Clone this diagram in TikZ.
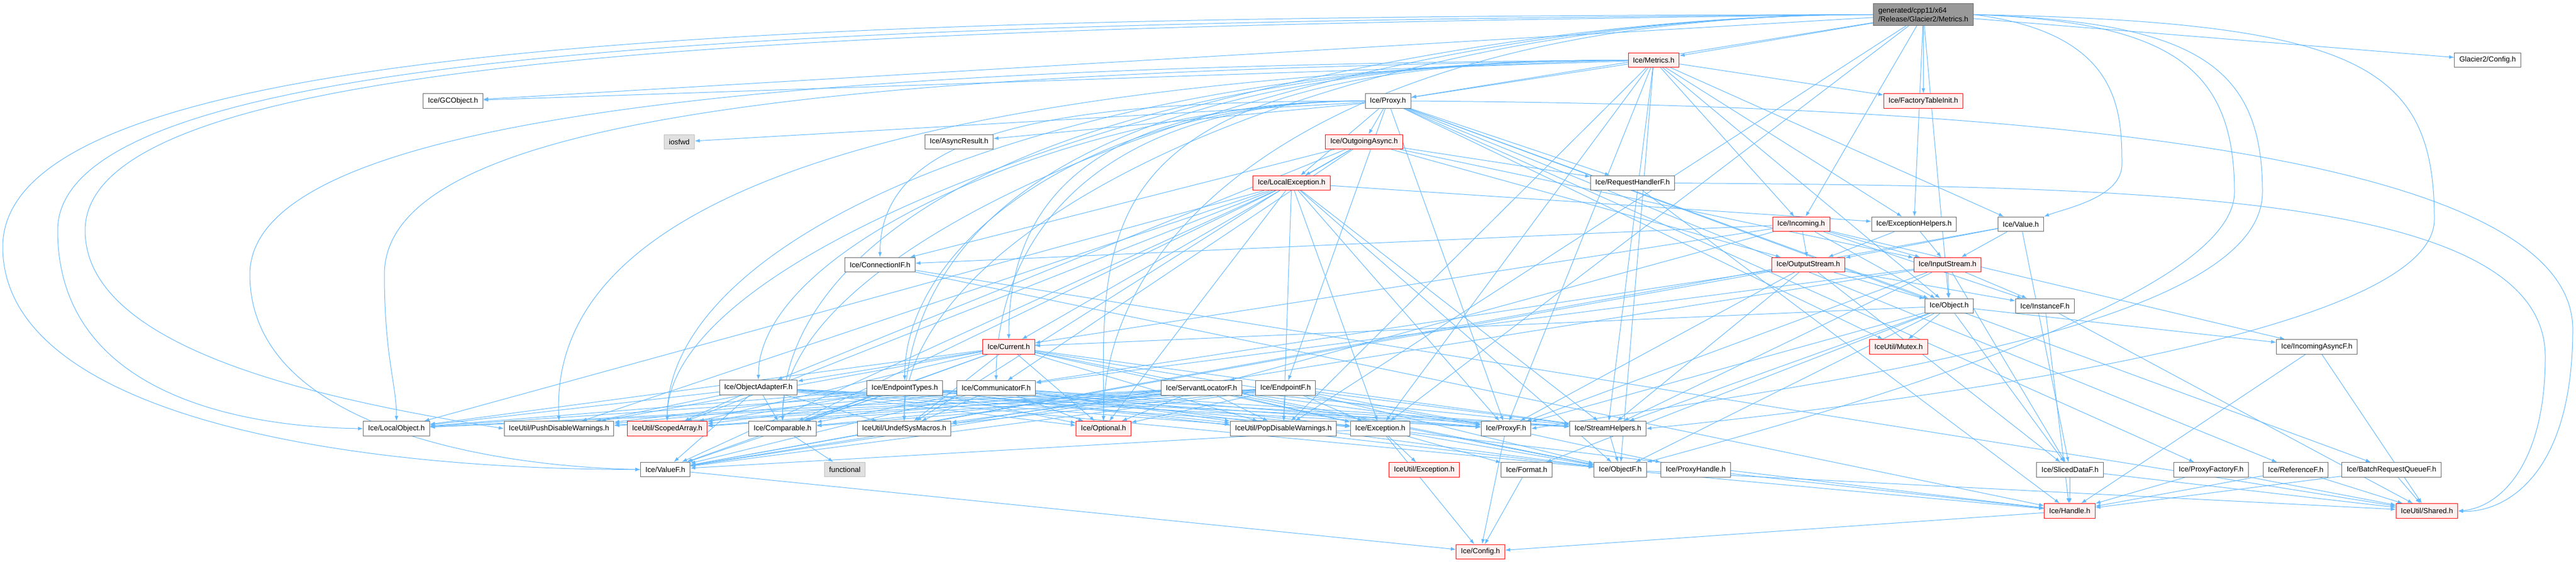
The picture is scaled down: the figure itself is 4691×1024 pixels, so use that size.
\documentclass[tikz,border=0pt]{standalone}
\usepackage{xcolor}
\usepackage{fontspec}
\setmainfont{Liberation Sans}
\usepackage{tikz}
\usetikzlibrary{arrows.meta}
\usetikzlibrary{backgrounds}
\definecolor{edgeblue}{HTML}{63B8FF}
\definecolor{boxgray}{HTML}{666666}
\definecolor{rootgray}{HTML}{999999}
\definecolor{sysfill}{HTML}{E0E0E0}
\definecolor{sysline}{HTML}{BFBFBF}
\definecolor{redfill}{HTML}{FFF0F0}
\tikzset{
 hfile/.style={draw=boxgray, fill=white, line width=.75pt, inner xsep=6.5pt, inner ysep=0pt, minimum height=20pt, font=\fontsize{10}{12}\selectfont},
 hred/.style={hfile, draw=red, fill=redfill},
 hsys/.style={hfile, draw=sysline, fill=sysfill},
 hroot/.style={hfile, fill=rootgray, align=left, inner ysep=5.5pt},
 dep/.style={edgeblue, line width=.75pt, ->, >={Latex[length=7pt,width=5pt]}},
}

\begin{document}
\begin{tikzpicture}[x=.75pt, y=.75pt]
\useasboundingbox (0,0) rectangle (4691,-1024);
\node[hroot] (root) at (3502.5,-26.5) {generated/cpp11/x64\\/Release/Glacier2/Metrics.h};
\node[hred] (metrics) at (3011.5,-109.5) {Ice/Metrics.h};
\node[hfile] (glacierconfig) at (4530,-109.5) {Glacier2/Config.h};
\node[hfile] (gcobject) at (825,-184) {Ice/GCObject.h};
\node[hfile] (proxy) at (2527.5,-184) {Ice/Proxy.h};
\node[hred] (factorytable) at (3502.5,-184) {Ice/FactoryTableInit.h};
\node[hsys] (iosfwd) at (1237,-258.5) {iosfwd};
\node[hfile] (asyncresult) at (1746.5,-258.5) {Ice/AsyncResult.h};
\node[hred] (outgoing) at (2484,-258.5) {Ice/OutgoingAsync.h};
\node[hred] (localexc) at (2352,-333.5) {Ice/LocalException.h};
\node[hfile] (requesthandlerf) at (2973,-333.5) {Ice/RequestHandlerF.h};
\node[hred] (incoming) at (3280,-408.5) {Ice/Incoming.h};
\node[hfile] (exchelpers) at (3485.5,-408.5) {Ice/ExceptionHelpers.h};
\node[hfile] (value) at (3680,-408.5) {Ice/Value.h};
\node[hfile] (connectionif) at (1602.5,-482.5) {Ice/ConnectionIF.h};
\node[hred] (outputstream) at (3293,-482.5) {Ice/OutputStream.h};
\node[hred] (inputstream) at (3546.5,-482.5) {Ice/InputStream.h};
\node[hfile] (object) at (3549.5,-557.5) {Ice/Object.h};
\node[hfile] (instancef) at (3724,-557.5) {Ice/InstanceF.h};
\node[hred] (current) at (1837,-632) {Ice/Current.h};
\node[hred] (mutex) at (3457.5,-632) {IceUtil/Mutex.h};
\node[hfile] (incomingasyncf) at (4219,-632) {Ice/IncomingAsyncF.h};
\node[hfile] (objectadapterf) at (1381,-706) {Ice/ObjectAdapterF.h};
\node[hfile] (endpointtypes) at (1647.5,-707) {Ice/EndpointTypes.h};
\node[hfile] (communicatorf) at (1814,-707) {Ice/CommunicatorF.h};
\node[hfile] (servantlocatorf) at (2188,-707) {Ice/ServantLocatorF.h};
\node[hfile] (endpointf) at (2341,-707) {Ice/EndpointF.h};
\node[hfile] (localobject) at (722,-781) {Ice/LocalObject.h};
\node[hfile] (pushdw) at (1018,-781) {IceUtil/PushDisableWarnings.h};
\node[hred] (scopedarray) at (1215,-781) {IceUtil/ScopedArray.h};
\node[hfile] (comparable) at (1425,-781) {Ice/Comparable.h};
\node[hfile] (undefsys) at (1646.5,-781) {IceUtil/UndefSysMacros.h};
\node[hred] (optional) at (2009.5,-781) {Ice/Optional.h};
\node[hfile] (popdw) at (2337,-781) {IceUtil/PopDisableWarnings.h};
\node[hfile] (exception) at (2513.5,-781) {Ice/Exception.h};
\node[hfile] (proxyf) at (2742.5,-781) {Ice/ProxyF.h};
\node[hfile] (streamhelpers) at (2928,-781) {Ice/StreamHelpers.h};
\node[hfile] (valuef) at (1211.5,-855.5) {Ice/ValueF.h};
\node[hsys] (functional) at (1538.5,-855.5) {functional};
\node[hred] (utilexception) at (2593.5,-856) {IceUtil/Exception.h};
\node[hfile] (format) at (2780,-856) {Ice/Format.h};
\node[hfile] (objectf) at (2950.5,-856) {Ice/ObjectF.h};
\node[hfile] (proxyhandle) at (3088,-856) {Ice/ProxyHandle.h};
\node[hfile] (sliceddataf) at (3769.5,-856) {Ice/SlicedDataF.h};
\node[hfile] (proxyfactoryf) at (4026.5,-856) {Ice/ProxyFactoryF.h};
\node[hfile] (referencef) at (4180.5,-856) {Ice/ReferenceF.h};
\node[hfile] (batchqueuef) at (4355,-856) {Ice/BatchRequestQueueF.h};
\node[hred] (handle) at (3769,-931) {Ice/Handle.h};
\node[hred] (shared) at (4419.5,-931) {IceUtil/Shared.h};
\node[hred] (config) at (2696,-1005.5) {Ice/Config.h};

\begin{scope}[on background layer]
\foreach \t in {metrics, gcobject, proxy, factorytable, incoming, exchelpers, object, exception, popdw, glacierconfig}
 \draw[dep] (root) -- (\t);
\foreach \t in {gcobject, proxy, factorytable, incoming, exchelpers, value, object, proxyf, objectf, exception, streamhelpers, popdw}
 \draw[dep] (metrics) -- (\t);
\foreach \s in {root, metrics} {
 \foreach \t in {scopedarray, comparable, undefsys, optional}
  \draw[dep] (\s.west) .. controls +(-1000,0) and +(0,350) .. (\t.north);
}
\draw[dep] (root.west) .. controls (1500,-30) and (5,-60) .. (5,-450) .. controls (5,-750) and (600,-855) .. (valuef.west);
\draw[dep] (root.west) .. controls (1500,-40) and (105,-80) .. (105,-420) .. controls (105,-700) and (400,-777) .. (localobject.west);
\draw[dep] (root.west) .. controls (1500,-50) and (155,-90) .. (155,-420) .. controls (155,-640) and (600,-730) .. (pushdw.west);
\draw[dep] (metrics.west) .. controls (1500,-120) and (455,-200) .. (455,-500) .. controls (455,-780) and (900,-850) .. (valuef.west);
\draw[dep] (metrics.west) .. controls (1600,-130) and (700,-200) .. (700,-500) .. controls (700,-650) and (722,-700) .. (localobject.north);
\draw[dep] (metrics.west) .. controls (1500,-150) and (1000,-400) .. (pushdw.north);
\draw[dep] (root.east) .. controls (4300,-40) and (4433,-120) .. (4433,-400) .. controls (4433,-620) and (3400,-740) .. (streamhelpers.east);
\draw[dep] (root.east) .. controls (4000,-40) and (4120,-120) .. (4120,-350) .. controls (4120,-600) and (3300,-700) .. (proxyf.east);
\draw[dep] (root.east) .. controls (3950,-40) and (4069,-120) .. (4069,-350) .. controls (4069,-550) and (3300,-760) .. (objectf.north east);
\draw[dep] (root.east) .. controls (3860,-60) and (3864,-200) .. (3864,-300) .. controls (3864,-360) and (3760,-380) .. (value.north east);
\foreach \t in {iosfwd, asyncresult, outgoing, localexc, requesthandlerf, endpointf, object, proxyf, mutex, referencef, proxyfactoryf, batchqueuef}
 \draw[dep] (proxy) -- (\t);
\foreach \t in {connectionif, objectadapterf, endpointtypes, communicatorf, current}
 \draw[dep] (proxy.west) .. controls +(-500,0) and +(0,250) .. (\t.north);
\draw[dep] (proxy.east) .. controls (3500,-190) and (4685,-250) .. (4685,-600) .. controls (4685,-880) and (4550,-935) .. (shared.east);
\draw[dep] (requesthandlerf.east) .. controls (3900,-340) and (4635,-350) .. (4635,-650) .. controls (4635,-850) and (4550,-925) .. (shared.east);
\foreach \t in {localexc, requesthandlerf, connectionif, communicatorf, objectadapterf, outputstream, inputstream, current}
 \draw[dep] (outgoing) -- (\t);
\foreach \s in {objectadapterf, endpointtypes, communicatorf, servantlocatorf, endpointf, current, localexc} {
 \foreach \t in {pushdw, proxyf, objectf, valuef, exception, localobject, streamhelpers, comparable, scopedarray, optional, undefsys, popdw}
  \draw[dep] (\s) -- (\t);
}
\draw[dep] (localexc) -- (exchelpers);
\draw[dep] (current) -- (objectadapterf);
\foreach \t in {instancef, connectionif, servantlocatorf, outputstream, inputstream, object, current, incomingasyncf}
 \draw[dep] (incoming) -- (\t);
\foreach \t in {outputstream, inputstream}
 \draw[dep] (exchelpers) -- (\t);
\foreach \t in {outputstream, inputstream, valuef, sliceddataf}
 \draw[dep] (value) -- (\t);
\foreach \s in {outputstream, inputstream} {
 \foreach \t in {communicatorf, instancef, object, valuef, proxyf, sliceddataf, streamhelpers}
  \draw[dep] (\s) -- (\t);
}
\foreach \t in {objectf, proxyf, incomingasyncf, current, format, sliceddataf, mutex, streamhelpers}
 \draw[dep] (object) -- (\t);
\foreach \t in {utilexception, config, format, objectf, valuef, handle}
 \draw[dep] (exception) -- (\t);
\draw[dep] (requesthandlerf) -- (handle);
\foreach \s in {connectionif, instancef, incomingasyncf, objectf, sliceddataf, proxyfactoryf, referencef, batchqueuef} {
 \draw[dep] (\s) -- (handle);
 \draw[dep] (\s) -- (shared);
}
\draw[dep] (proxyf) -- (config);
\draw[dep] (proxyf) -- (proxyhandle);
\draw[dep] (proxyhandle) -- (handle);
\draw[dep] (streamhelpers) -- (objectf);
\draw[dep] (comparable) -- (functional);
\foreach \s in {valuef, format, handle}
 \draw[dep] (\s) -- (config);
\end{scope}
\end{tikzpicture}
\end{document}
